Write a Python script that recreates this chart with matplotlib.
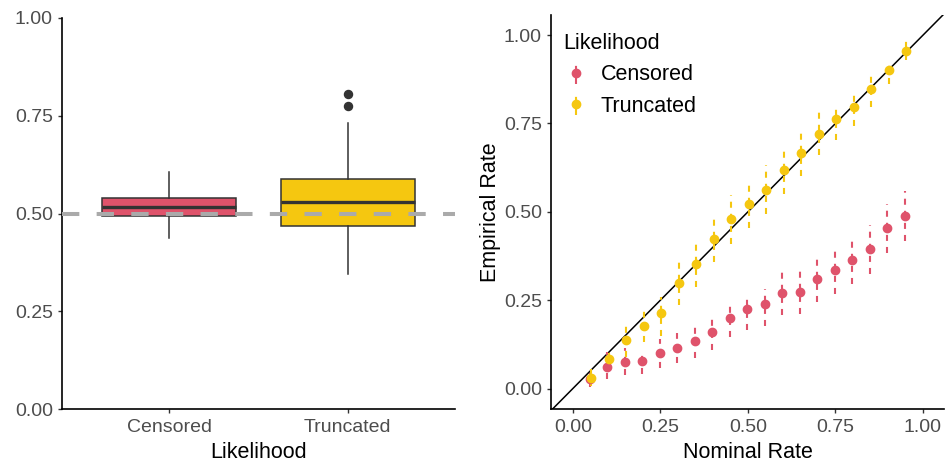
import numpy as np
import matplotlib.pyplot as plt

plt.rcParams['font.family'] = ['Liberation Sans', 'DejaVu Sans']

# colours (R 4 palette)
red = '#DF536B'
yellow = '#F5C710'
groups = ['Censored', 'Truncated']
colors = [red, yellow]

# left panel: box plot summaries
box_q1 = [0.494, 0.469]
box_med = [0.517, 0.530]
box_q3 = [0.540, 0.587]
box_lo = [0.437, 0.346]
box_hi = [0.606, 0.732]
box_out = [[], [0.775, 0.806]]

# right panel: coverage points with intervals
nominal = [0.05, 0.10, 0.15, 0.20, 0.25, 0.30, 0.35, 0.40, 0.45, 0.50,
           0.55, 0.60, 0.65, 0.70, 0.75, 0.80, 0.85, 0.90, 0.95]
cens_rate = [0.026, 0.060, 0.075, 0.079, 0.100, 0.115, 0.135, 0.160, 0.199, 0.225,
             0.240, 0.269, 0.274, 0.309, 0.334, 0.363, 0.394, 0.454, 0.489]
cens_lo = [0.004, 0.027, 0.038, 0.042, 0.058, 0.072, 0.087, 0.108, 0.147, 0.166,
           0.178, 0.209, 0.212, 0.245, 0.268, 0.297, 0.325, 0.384, 0.417]
cens_hi = [0.045, 0.103, 0.114, 0.108, 0.141, 0.157, 0.181, 0.210, 0.245, 0.268,
           0.282, 0.331, 0.336, 0.372, 0.399, 0.431, 0.462, 0.523, 0.558]
trunc_rate = [0.030, 0.084, 0.136, 0.178, 0.214, 0.298, 0.353, 0.424, 0.479, 0.523,
              0.562, 0.618, 0.667, 0.721, 0.762, 0.797, 0.847, 0.902, 0.956]
trunc_lo = [0.006, 0.049, 0.089, 0.131, 0.150, 0.235, 0.287, 0.358, 0.410, 0.455,
            0.495, 0.551, 0.601, 0.660, 0.703, 0.742, 0.797, 0.861, 0.929]
trunc_hi = [0.056, 0.108, 0.181, 0.229, 0.259, 0.363, 0.419, 0.493, 0.547, 0.591,
            0.632, 0.686, 0.733, 0.785, 0.805, 0.844, 0.897, 0.922, 0.983]

ticks = [0, 0.25, 0.5, 0.75, 1.0]
tick_labels = ['0.00', '0.25', '0.50', '0.75', '1.00']

fig = plt.figure(figsize=(9.48, 4.62), dpi=100)
W, H = 948, 462
ax1 = fig.add_axes([62 / W, 1 - 409 / H, (455 - 62) / W, (409 - 18) / H])
ax2 = fig.add_axes([551 / W, 1 - 409 / H, (944 - 551) / W, (409 - 15) / H])


def style(ax):
    for s in ['top', 'right']:
        ax.spines[s].set_visible(False)
    for s in ['left', 'bottom']:
        ax.spines[s].set_linewidth(1.2)
        ax.spines[s].set_color('black')
    ax.tick_params(length=3, width=1.0, color='#333333', labelcolor='#4D4D4D',
                   labelsize=14, pad=3.5)
    ax.tick_params(axis='x', pad=4.5)


# ---- left: box plots
stats = []
for i in range(2):
    stats.append(dict(med=box_med[i], q1=box_q1[i], q3=box_q3[i],
                      whislo=box_lo[i], whishi=box_hi[i], fliers=box_out[i]))
bp = ax1.bxp(stats, positions=[1, 2], widths=0.75, patch_artist=True, showcaps=False,
             boxprops=dict(edgecolor='#333333', linewidth=1.1),
             medianprops=dict(color='#333333', linewidth=2.4),
             whiskerprops=dict(color='#333333', linewidth=1.1),
             flierprops=dict(marker='o', markerfacecolor='#333333',
                             markeredgecolor='#333333', markersize=5.8))
for patch, c in zip(bp['boxes'], colors):
    patch.set_facecolor(c)
ax1.axhline(0.5, color='#AAAAAA', linewidth=2.9, linestyle=(0, (4.3, 4.3)), zorder=5)
ax1.set_xlim(0.4, 2.6)
ax1.set_ylim(0, 1)
ax1.set_xticks([1, 2])
ax1.set_xticklabels(groups)
ax1.set_yticks(ticks)
ax1.set_yticklabels(tick_labels)
ax1.set_xlabel('Likelihood', fontsize=15.5, labelpad=4)
style(ax1)

# ---- right: calibration plot
ax2.plot([-0.1, 1.1], [-0.1, 1.1], color='black', linewidth=1.1, zorder=1)
handles = []
series = [(cens_rate, cens_lo, cens_hi, -0.002),
          (trunc_rate, trunc_lo, trunc_hi, 0.002)]
for (rate, lo, hi, dx), c in zip(series, colors):
    x = np.array(nominal) + dx
    r = np.array(rate)
    err = [r - np.array(lo), np.array(hi) - r]
    eb = ax2.errorbar(x, r, yerr=err, fmt='o', color=c, markersize=6,
                      elinewidth=1.5, capsize=0, zorder=2)
    eb[2][0].set_linestyle((0, (2.9, 2.9)))
    handles.append(eb)

ax2.set_xlim(-0.0625, 1.06)
ax2.set_ylim(-0.058, 1.057)
ax2.set_xticks(ticks)
ax2.set_xticklabels(tick_labels)
ax2.set_yticks(ticks)
ax2.set_yticklabels(tick_labels)
ax2.set_xlabel('Nominal Rate', fontsize=15.5, labelpad=4)
ax2.set_ylabel('Empirical Rate', fontsize=15.5, labelpad=2)
style(ax2)

leg = ax2.legend(handles, groups, title='Likelihood', loc='upper left',
                 bbox_to_anchor=(0.009, 0.976), frameon=False, fontsize=15.5,
                 title_fontsize=15.5, alignment='left', handlelength=1.2,
                 handletextpad=0.55, labelspacing=0.475, borderaxespad=0.0)

fig.savefig('out.png', dpi=100)
